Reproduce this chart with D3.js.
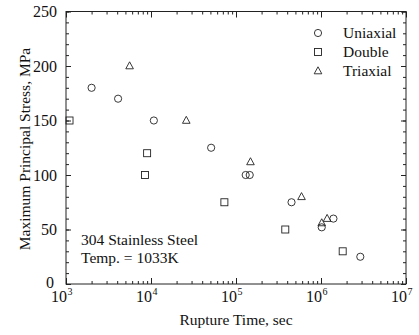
<!DOCTYPE html>
<html><head><meta charset="utf-8">
<script src="https://cdn.jsdelivr.net/npm/d3@7"></script>
<style>body{margin:0;background:#fff}svg{display:block}text{font-family:"Liberation Serif","Times New Roman",serif;fill:#111}</style>
</head><body>
<svg id="c" width="419" height="335"></svg>
<script>
const uniaxialTime = [2000, 4100, 10800, 51000, 130000, 145000, 450000, 1020000, 1400000, 2900000];
const uniaxialStress = [180, 170, 150, 125, 100, 100, 75, 52, 60, 25];
const doubleTime = [1100, 9000, 8500, 73000, 380000, 1800000];
const doubleStress = [150, 120, 100, 75, 50, 30];
const triaxialTime = [5600, 26000, 148000, 590000, 1020000, 1180000];
const triaxialStress = [200, 150, 112, 80, 56, 60];
const yTicks = [0, 50, 100, 150, 200, 250];
const xDecades = [1e3, 1e4, 1e5, 1e6, 1e7];
const legendLabels = ["Uniaxial", "Double", "Triaxial"];

const svg = d3.select("#c");
const L = 66, R = 406, T = 11.5, B = 284;
const x = d3.scaleLog().domain([1e3, 1e7]).range([L, R]);
const y = d3.scaleLinear().domain([0, 250]).range([B, T]);
const ink = "#222";
const FS = 15.5;

svg.append("rect").attr("x", L).attr("y", T).attr("width", R - L).attr("height", B - T)
  .attr("fill", "none").attr("stroke", ink).attr("stroke-width", 1);

const yMinor = d3.range(0, 251, 10);
const xMinor = [];
for (let d = 3; d < 7; d++) for (let k = 2; k <= 9; k++) xMinor.push(k * Math.pow(10, d));

function ticksG(axis, tr) {
  const g = svg.append("g").attr("transform", tr).call(axis);
  g.select(".domain").remove();
  g.selectAll("line").attr("stroke", ink);
  return g;
}
const gy = ticksG(d3.axisLeft(y).tickValues(yTicks).tickSize(-5).tickPadding(9).tickFormat(d3.format("d")), `translate(${L},0)`);
gy.selectAll("text").attr("font-size", 16).style("font-family", "Liberation Serif, serif").attr("fill", "#111");
gy.selectAll(".tick").filter(d => d === 0).select("text").attr("x", -12).attr("dy", "0.2em");
ticksG(d3.axisLeft(y).tickValues(yMinor).tickSize(-3).tickFormat(""), `translate(${L},0)`);
ticksG(d3.axisRight(y).tickValues(yTicks).tickSize(-5).tickFormat(""), `translate(${R},0)`);
ticksG(d3.axisRight(y).tickValues(yMinor).tickSize(-3).tickFormat(""), `translate(${R},0)`);
ticksG(d3.axisBottom(x).tickValues(xDecades).tickSize(-6).tickFormat(""), `translate(0,${B})`);
ticksG(d3.axisBottom(x).tickValues(xMinor).tickSize(-3).tickFormat(""), `translate(0,${B})`);
ticksG(d3.axisTop(x).tickValues(xDecades).tickSize(-6).tickFormat(""), `translate(0,${T})`);
ticksG(d3.axisTop(x).tickValues(xMinor).tickSize(-3).tickFormat(""), `translate(0,${T})`);

xDecades.forEach(v => {
  const px = x(v);
  svg.append("text").attr("x", px + 1).attr("y", 302).attr("text-anchor", "end").attr("font-size", 16).text("10");
  svg.append("text").attr("x", px + 1.5).attr("y", 295).attr("font-size", 10).text(Math.round(Math.log10(v)));
});

svg.append("text").attr("x", (L + R) / 2).attr("y", 325).attr("text-anchor", "middle").attr("font-size", FS).text("Rupture Time, sec");
svg.append("text").attr("transform", `translate(30,149) rotate(-90)`).attr("text-anchor", "middle").attr("font-size", FS).text("Maximum Principal Stress, MPa");

function circle(g, cx, cy) { g.append("circle").attr("cx", cx).attr("cy", cy).attr("r", 3.6).attr("fill", "none").attr("stroke", ink).attr("stroke-width", 0.9); }
function square(g, cx, cy) { g.append("rect").attr("x", cx - 3.5).attr("y", cy - 3.5).attr("width", 7).attr("height", 7).attr("fill", "none").attr("stroke", ink).attr("stroke-width", 0.9); }
function tri(g, cx, cy) { g.append("path").attr("d", `M${cx},${cy - 4.2}L${cx + 3.8},${cy + 2.8}L${cx - 3.8},${cy + 2.8}Z`).attr("fill", "none").attr("stroke", ink).attr("stroke-width", 0.9); }

const gp = svg.append("g");
uniaxialTime.forEach((t, i) => circle(gp, x(t), y(uniaxialStress[i])));
doubleTime.forEach((t, i) => square(gp, x(t), y(doubleStress[i])));
triaxialTime.forEach((t, i) => tri(gp, x(t), y(triaxialStress[i])));

const lg = svg.append("g");
const shapes = [circle, square, tri];
legendLabels.forEach((lab, i) => {
  const yy = 33 + i * 19;
  shapes[i](lg, 318, yy);
  lg.append("text").attr("x", 343).attr("y", yy + 5).attr("font-size", FS).text(lab);
});

svg.append("text").attr("x", 81).attr("y", 245).attr("font-size", FS).text("304 Stainless Steel");
svg.append("text").attr("x", 81).attr("y", 263).attr("font-size", FS).text("Temp. = 1033K");
</script>
</body></html>
